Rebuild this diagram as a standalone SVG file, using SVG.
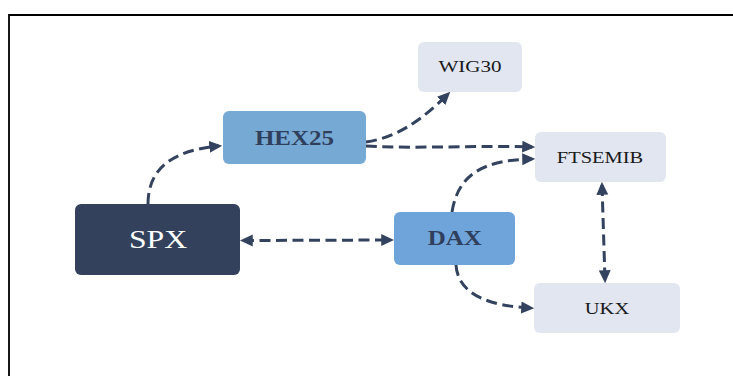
<svg xmlns="http://www.w3.org/2000/svg" width="733" height="376" viewBox="0 0 733 376">
<style>
.edge{fill:none;stroke:#33425e;stroke-width:3;stroke-dasharray:11,5.5}
.uni{marker-end:url(#ah)}
.bi{marker-start:url(#ah);marker-end:url(#ah)}
.t{font-family:"Liberation Serif","Times New Roman",serif;text-anchor:middle}
.dark{fill:#33415c}
.mid{fill:#77a9d5}
.midb{fill:#6fa4da}
.light{fill:#e1e6f1}
</style>
<defs>
<marker id="ah" viewBox="0 0 12 12" markerUnits="userSpaceOnUse" markerWidth="13" markerHeight="13" refX="9" refY="6" orient="auto-start-reverse">
<path d="M0,0.5 L12,6 L0,11.5 z" fill="#33425e"/>
</marker>
</defs>
<rect x="0" y="0" width="733" height="376" fill="#ffffff"/>
<path d="M9,376 V15 H733" fill="none" stroke="#000" stroke-width="1.8"/>
<g id="connectors">
<path class="edge uni" d="M148,204 C148,166 176,150 219,146"/>
<path class="edge bi" d="M243,240.5 L391,240"/>
<path class="edge uni" d="M366,142 C395,138 420,122 448,94"/>
<path class="edge uni" d="M366,146 C420,149 480,145 532,147"/>
<path class="edge uni" d="M452,212 C458,175 482,160 532,159"/>
<path class="edge uni" d="M456,265 C458,295 490,306 531,308"/>
<path class="edge bi" d="M602,185 L605,280"/>
</g>
<g id="SPX">
<rect class="dark" x="75" y="204" width="165" height="71" rx="6"/>
<text class="t" transform="translate(158,248) scale(1.27,1)" font-size="25" fill="#ffffff">SPX</text>
</g>
<g id="HEX25">
<rect class="mid" x="223" y="111" width="143" height="53" rx="6"/>
<text class="t" transform="translate(294.5,145) scale(1.25,1)" font-size="20" font-weight="bold" fill="#2f3f5c">HEX25</text>
</g>
<g id="DAX">
<rect class="midb" x="394" y="212" width="121" height="53" rx="6"/>
<text class="t" transform="translate(454.7,245) scale(1.25,1)" font-size="20" font-weight="bold" fill="#2f3f5c">DAX</text>
</g>
<g id="WIG30">
<rect class="light" x="418" y="42" width="104" height="50" rx="6"/>
<text class="t" transform="translate(470,72) scale(1.24,1)" font-size="17" fill="#1a1a1a">WIG30</text>
</g>
<g id="FTSEMIB">
<rect class="light" x="535" y="132" width="131" height="50" rx="6"/>
<text class="t" transform="translate(600,163) scale(1.24,1)" font-size="16.5" fill="#1a1a1a">FTSEMIB</text>
</g>
<g id="UKX">
<rect class="light" x="534" y="283" width="146" height="50" rx="6"/>
<text class="t" transform="translate(607,314) scale(1.24,1)" font-size="16.5" fill="#1a1a1a">UKX</text>
</g>
</svg>
